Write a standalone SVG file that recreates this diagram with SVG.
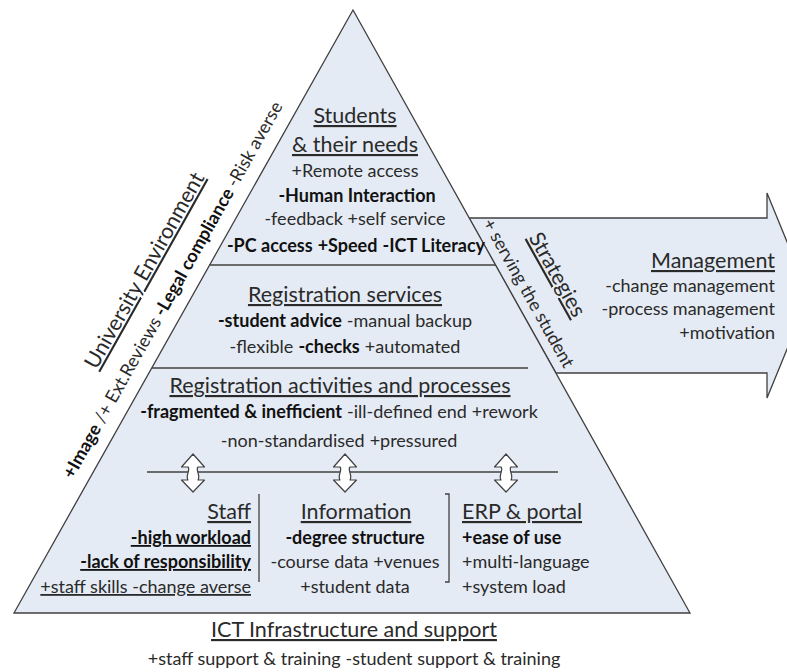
<svg xmlns="http://www.w3.org/2000/svg" width="787" height="672" viewBox="0 0 787 672">
  <defs>
    <style>
      .t { font-family: Lato, "Open Sans", "Liberation Sans", sans-serif; fill: #2a2a2a; }
      .h { font-size: 21.5px; text-decoration: underline; text-decoration-thickness: 1.6px; }
      .s { font-size: 18px; }
      .b { font-weight: 700; fill: #111; }
      .mid { text-anchor: middle; }
      .end { text-anchor: end; }
      .shape { fill: #e5ebf4; stroke: #404040; stroke-width: 1.3; }
      .rule { fill: none; stroke: #404040; stroke-width: 1.3; }
      .dbl { fill: #ffffff; stroke: #404040; stroke-width: 1.2; stroke-linejoin: round; }
    </style>
    <!-- hollow up/down arrow, centred on x=0, spanning y 0..38 -->
    <path id="updown" class="dbl" d="M0 0 L11.5 13 L5 13 C2 16 8 21 5 26 L11.5 26 L0 38 L-11.5 26 L-5 26 C-8 21 -2 16 -5 13 L-11.5 13 Z"/>
  </defs>

  <!-- strategy arrow leading out to management -->
  <g id="management">
    <polygon class="shape" points="469,218 767,218 767,193 809,295.5 767,398 767,373 556,373"/>
    <text class="t h end" x="775" y="268">Management</text>
    <text class="t s end" x="775" y="292">-change management</text>
    <text class="t s end" x="775" y="315">-process management</text>
    <text class="t s end" x="775" y="339">+motivation</text>
  </g>

  <!-- pyramid body -->
  <g id="pyramid">
    <polygon class="shape" points="353,10 690,613 14,613"/>
  </g>

  <g id="connectors">
    <path class="rule" d="M209.6 265 H495.5"/>
    <path class="rule" d="M152 368 H528"/>
    <path class="rule" d="M147 472 H558"/>
    <path class="rule" d="M259 494 V582"/>
    <path class="rule" d="M445 494 H449 V582 H445"/>
    <use href="#updown" x="193" y="454"/>
    <use href="#updown" x="345" y="454"/>
    <use href="#updown" x="506" y="454"/>
  </g>

  <g id="students">
    <text class="t h mid" x="355" y="123">Students</text>
    <text class="t h mid" x="355" y="152">&amp; their needs</text>
    <text class="t s mid" x="355" y="177">+Remote access</text>
    <text class="t s b mid" x="357" y="202">-Human Interaction</text>
    <text class="t s mid" x="355" y="225">-feedback +self service</text>
    <text class="t s b mid" x="356" y="252">-PC access<tspan dx="5">+Speed</tspan><tspan dx="5">-ICT Literacy</tspan></text>
  </g>

  <g id="services">
    <text class="t h mid" x="345" y="302">Registration services</text>
    <text class="t s mid" x="345" y="327"><tspan class="b">-student advice</tspan><tspan dx="5">-manual backup</tspan></text>
    <text class="t s mid" x="345" y="353">-flexible<tspan class="b" dx="5">-checks</tspan><tspan dx="5">+automated</tspan></text>
  </g>

  <g id="activities">
    <text class="t h mid" x="340" y="393">Registration activities and processes</text>
    <text class="t s mid" x="339" y="418"><tspan class="b">-fragmented &amp; inefficient</tspan><tspan dx="5">-ill-defined end</tspan><tspan dx="5">+rework</tspan></text>
    <text class="t s mid" x="339" y="447">-non-standardised<tspan dx="5">+pressured</tspan></text>
  </g>

  <g id="staff">
    <text class="t h end" x="251" y="519">Staff</text>
    <text class="t s b end" x="251" y="544" text-decoration="underline">-high workload</text>
    <text class="t s b end" x="251" y="568" text-decoration="underline">-lack of responsibility</text>
    <text class="t s end" x="251" y="593" text-decoration="underline">+staff skills -change averse</text>
  </g>

  <g id="information">
    <text class="t h mid" x="356" y="519">Information</text>
    <text class="t s b mid" x="355" y="544">-degree structure</text>
    <text class="t s mid" x="355" y="568">-course data +venues</text>
    <text class="t s mid" x="355" y="593">+student data</text>
  </g>

  <g id="erp">
    <text class="t h" x="462" y="519">ERP &amp; portal</text>
    <text class="t s b" x="462" y="544">+ease of use</text>
    <text class="t s" x="462" y="568">+multi-language</text>
    <text class="t s" x="462" y="593">+system load</text>
  </g>

  <g id="infrastructure">
    <text class="t h mid" x="354" y="637">ICT Infrastructure and support</text>
    <text class="t s mid" x="354" y="665">+staff support &amp; training<tspan dx="5">-student support &amp; training</tspan></text>
  </g>

  <!-- labels running along the left slope -->
  <g id="environment" transform="translate(14,613) rotate(-60.65)">
    <text class="t h" x="252" y="-47">University Environment</text>
    <text class="t s" x="145" y="-14"><tspan class="b">+Image</tspan> /+ Ext.Reviews <tspan class="b">-Legal compliance</tspan> -Risk averse</text>
  </g>

  <!-- labels running along the right slope -->
  <g id="strategies" transform="translate(353,10) rotate(60.79)">
    <text class="t s" x="249" y="-9">+ serving the student</text>
    <text class="t h" x="284" y="-42">Strategies</text>
  </g>
</svg>
